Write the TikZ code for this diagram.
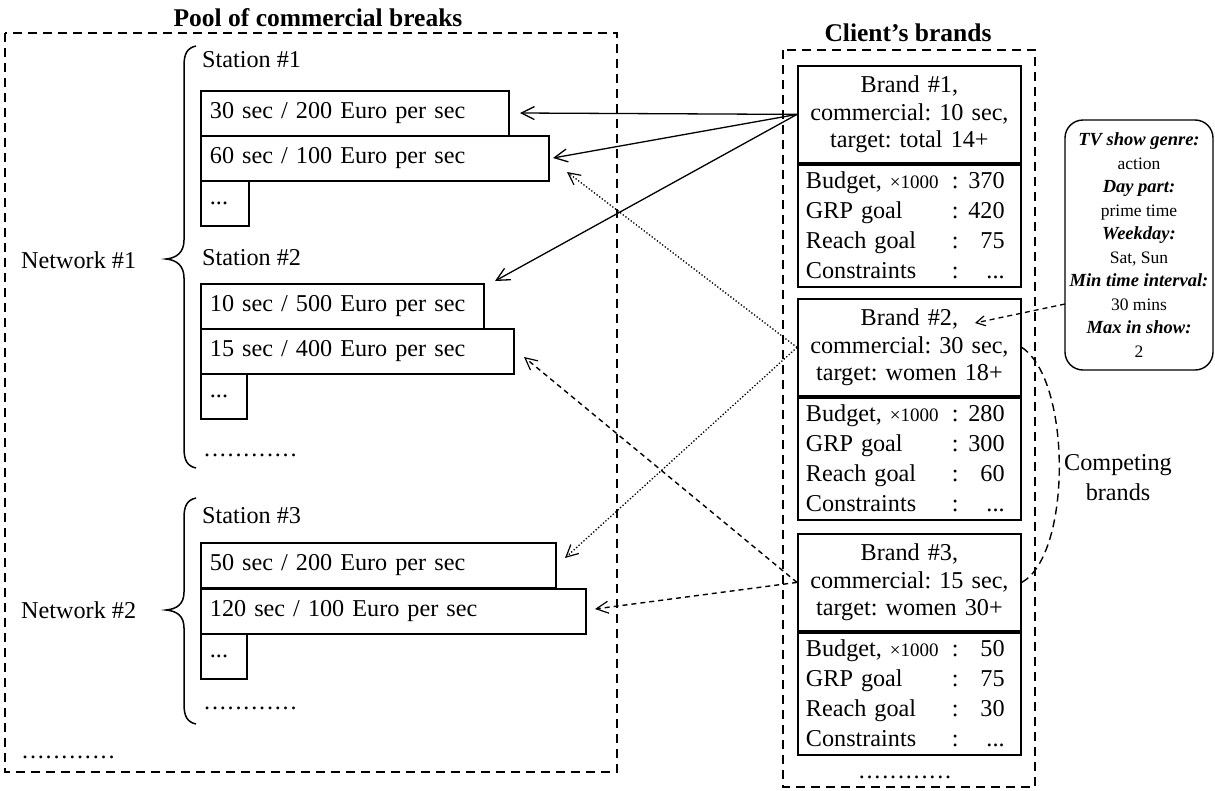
\documentclass[tikz,border=0pt]{standalone}
\usepackage{fontspec}
\setmainfont{Liberation Serif}
\usetikzlibrary{arrows.meta}
\frenchspacing
\tikzset{
  txt/.style={font=\fontsize{24.2}{30}\selectfont, inner sep=0pt},
  ttl/.style={font=\fontsize{25.5}{30}\selectfont\bfseries, inner sep=0pt},
  frame/.style={line width=2pt, dash pattern=on 9pt off 6pt},
  slot/.style={draw, line width=1.8pt, minimum height=45pt, inner xsep=9pt, inner ysep=0pt,
    anchor=north west, align=left, font=\fontsize{24.2}{30}\selectfont},
  bhead/.style={draw, line width=1.8pt, anchor=north west, minimum width=223pt, minimum height=97pt,
    text width=215pt, inner xsep=4pt, inner ysep=0pt, align=center, font=\fontsize{24.2}{27.5}\selectfont},
  bdata/.style={draw, line width=1.8pt, anchor=north west, minimum width=223pt, minimum height=122pt,
    text width=207pt, inner xsep=8pt, inner ysep=0pt, align=left, font=\fontsize{24.2}{30}\selectfont},
  bracestyle/.style={line width=1.5pt},
  solidarr/.style={line width=1.3pt, -{Straight Barb[length=13pt,width=13pt,line width=1.3pt]}},
  dotarr/.style={line width=1.3pt, dash pattern=on 1.3pt off 2pt, -{Straight Barb[length=12pt,width=12pt,line width=1.2pt]}},
  dasharr/.style={line width=1.4pt, dash pattern=on 5pt off 4pt, -{Straight Barb[length=12pt,width=12pt,line width=1.2pt]}},
  smalldash/.style={line width=1.3pt, dash pattern=on 5pt off 4pt, -{Straight Barb[length=9pt,width=10pt,line width=1.2pt]}},
  arcdash/.style={line width=1.4pt, dash pattern=on 8pt off 5pt},
  cons/.style={draw, line width=1.4pt, rounded corners=18pt, minimum width=148pt, minimum height=250pt,
    align=center, inner sep=0pt, font=\fontsize{18.5}{23.5}\selectfont},
}
\newcommand{\lbl}[1]{\textbf{\textit{#1}}}
\newcommand{\val}[1]{{\fontsize{17.5}{23.5}\selectfont #1}}
\newcommand{\drow}[2]{\makebox[146pt][l]{#1}:\makebox[46pt][r]{#2}}
\newcommand{\budg}{Budget, {\fontsize{19}{19}\selectfont ×1000}}
\newcommand{\dd}{.\kern1.8pt}
\newcommand{\dotrow}{\dd\dd\dd\dd\dd\dd\dd\dd\dd\dd\dd.}
\begin{document}
\begin{tikzpicture}[x=1pt,y=-1pt]
\useasboundingbox (0,0) rectangle (1215,790);

% titles and frames
\node[ttl] (t1) at (318,18) {Pool of commercial breaks};
\node[ttl] (t2) at (908,33) {Client’s brands};
\draw[frame] (5,33) rectangle (617,772);
\draw[frame] (783,50) rectangle (1035,787);

% ---------- left: network 1 ----------
\node[txt, anchor=west] (st1) at (202,60) {Station \#1};
\node[slot, text width=290pt] (A) at (200,90) {30 sec / 200 Euro per sec};
\node[slot, text width=330pt] (B) at (200,135) {60 sec / 100 Euro per sec};
\node[slot, text width=30pt] (d1) at (200,180) {...};
\node[txt, anchor=west] (st2) at (202,258) {Station \#2};
\node[slot, text width=265pt] (C) at (200,283) {10 sec / 500 Euro per sec};
\node[slot, text width=295pt] (D) at (200,328) {15 sec / 400 Euro per sec};
\node[slot, text width=28pt] (d2) at (200,373) {...};
\node[txt, anchor=west] (dots1) at (204,455) {\dotrow};
\node[txt, anchor=west] (n1) at (21,260) {Network \#1};
\draw[bracestyle] (196,46) .. controls (187,48) and (184,54) .. (184,66) -- (184,240)
  .. controls (184,252) and (177,258) .. (166,259) .. controls (177,260) and (184,266) .. (184,278)
  -- (184,448) .. controls (184,460) and (187,466) .. (196,468);

% ---------- left: network 2 ----------
\node[txt, anchor=west] (st3) at (202,516) {Station \#3};
\node[slot, text width=337pt] (E) at (200,542) {50 sec / 200 Euro per sec};
\node[slot, text width=367pt] (F) at (200,588) {120 sec / 100 Euro per sec};
\node[slot, text width=28pt] (d3) at (200,633) {...};
\node[txt, anchor=west] (dots2) at (204,708) {\dotrow};
\node[txt, anchor=west] (n2) at (21,610) {Network \#2};
\draw[bracestyle] (196,498) .. controls (187,500) and (184,506) .. (184,518) -- (184,592)
  .. controls (184,604) and (177,609) .. (166,610) .. controls (177,611) and (184,616) .. (184,628)
  -- (184,704) .. controls (184,716) and (187,722) .. (196,724);
\node[txt, anchor=west] (dots3) at (22,757) {\dotrow};

% ---------- right: brands ----------
\node[bhead] (b1h) at (797,65) {Brand \#1,\\commercial: 10 sec,\\target: total 14+};
\node[bdata] (b1d) at (b1h.south west) {\drow{\budg}{370}\\\drow{GRP goal}{420}\\\drow{Reach goal}{75}\\\drow{Constraints}{...}};
\node[bhead] (b2h) at (797,298) {Brand \#2,\\commercial: 30 sec,\\target: women 18+};
\node[bdata] (b2d) at (b2h.south west) {\drow{\budg}{280}\\\drow{GRP goal}{300}\\\drow{Reach goal}{60}\\\drow{Constraints}{...}};
\node[bhead] (b3h) at (797,533) {Brand \#3,\\commercial: 15 sec,\\target: women 30+};
\node[bdata] (b3d) at (b3h.south west) {\drow{\budg}{50}\\\drow{GRP goal}{75}\\\drow{Reach goal}{30}\\\drow{Constraints}{...}};
\node[txt] (dots4) at (905,777) {\dotrow};

% constraints box
\node[cons] (cbox) at (1139,245) {\lbl{TV show genre:}\\\val{action}\\\lbl{Day part:}\\\val{prime time}\\\lbl{Weekday:}\\\val{Sat, Sun}\\\lbl{Min time interval:}\\\val{30 mins}\\\lbl{Max in show:}\\\val{2}};

% competing brands
\draw[arcdash] (b2h.east) .. controls +(50,33) and +(50,-28) .. (b3h.east);
\node[txt, align=center, font=\fontsize{24.2}{30}\selectfont] (comp) at (1118,478) {Competing\\brands};

% arrow tips
\coordinate (tA) at (520,113);
\coordinate (tB) at (553,158);
\coordinate (tC) at (495,281);
\coordinate (tB2) at (567,172);
\coordinate (tE) at (565,558);
\coordinate (tD) at (524,357);
\coordinate (tF) at (595,609);
\coordinate (tBr) at (975,323);
\coordinate (cs) at (1065,304);

\draw[solidarr] (b1h.west) -- (tA);
\draw[solidarr] (b1h.west) -- (tB);
\draw[solidarr] (b1h.west) -- (tC);
\draw[dotarr] (b2h.west) -- (tB2);
\draw[dotarr] (b2h.west) -- (tE);
\draw[dasharr] (b3h.west) -- (tD);
\draw[dasharr] (b3h.west) -- (tF);
\draw[smalldash] (cs) -- (tBr);
\end{tikzpicture}
\end{document}
